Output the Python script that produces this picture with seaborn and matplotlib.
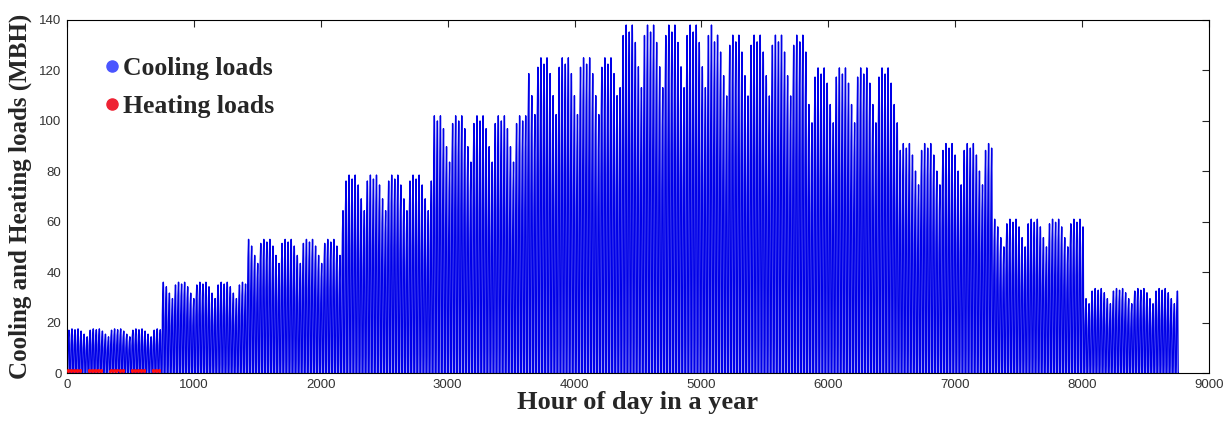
import numpy as np
import pandas as pd
import matplotlib
matplotlib.use("Agg")
import matplotlib.pyplot as plt
from matplotlib.lines import Line2D
import seaborn as sns

# ---------------- data ----------------
month_hours = [744, 672, 744, 720, 744, 720, 744, 744, 720, 744, 720, 744]
month_peak = [17.5, 36, 53, 78.5, 102, 125, 138, 134, 121, 91, 61, 33.5]
# relative daily load profile (24 hours)
hour_profile = [0, 0, 0, 0, 0, 0, 0.10, 0.50, 0.64, 0.74, 0.81, 0.86,
                0.90, 0.94, 0.98, 1.00, 0.97, 0.88, 0.64, 0.34, 0.08, 0, 0, 0]
# day-of-week scaling of the daily peak
weekday_factor = [0.97, 1.0, 0.98, 1.0, 0.95, 0.88, 0.82]
# heating (early morning, January only)
heating_hours = [6, 7]
heating_values = [0.8, 1.0]
heating_months = [0]

x_ticks = [0, 1000, 2000, 3000, 4000, 5000, 6000, 7000, 8000, 9000]
y_ticks = [0, 20, 40, 60, 80, 100, 120, 140]

# ---------------- build hourly series ----------------
cool = []
heat_h, heat_v = [], []
hour = 0
day_idx = 0
for m, (nh, pk) in enumerate(zip(month_hours, month_peak)):
    for d in range(nh // 24):
        f = weekday_factor[day_idx % 7]
        for h in range(24):
            cool.append(pk * f * hour_profile[h])
            if m in heating_months and h in heating_hours and day_idx % 7 < 5:
                heat_h.append(hour)
                heat_v.append(heating_values[heating_hours.index(h)])
            hour += 1
        day_idx += 1
df_cool = pd.DataFrame({"hour": np.arange(len(cool)), "load": cool})
df_heat = pd.DataFrame({"hour": heat_h, "load": heat_v})

# ---------------- plot ----------------
sns.set_style("white")
plt.rcParams["font.family"] = ["Liberation Sans", "DejaVu Sans"]
fig = plt.figure(figsize=(12.32, 4.21), dpi=100)
ax = fig.add_axes([67 / 1232, 48 / 421, (1209 - 67) / 1232, (373 - 20) / 421])

sns.lineplot(data=df_cool, x="hour", y="load", ax=ax, color="#0000e8",
             linewidth=1.0, estimator=None, sort=False)
sns.scatterplot(data=df_heat, x="hour", y="load", ax=ax, color="#ff1010",
                s=5, linewidth=0, zorder=3)

ax.set_xlim(0, 9000)
ax.set_ylim(0, 140)
ax.set_xticks(x_ticks)
ax.set_yticks(y_ticks)
ax.tick_params(direction="in", length=5, width=0.8, top=True, right=True,
               labelsize=9.5, labelcolor="#333333", pad=4)
for s in ax.spines.values():
    s.set_color("black")
    s.set_linewidth(0.8)

serif = ["Liberation Serif", "DejaVu Serif"]
ax.set_xlabel("Hour of day in a year", fontsize=19, fontweight="bold",
              family=serif, labelpad=0.5)
ax.set_ylabel("Cooling and Heating loads (MBH)", fontsize=18, fontweight="bold",
              family=serif, labelpad=5)

handles = [Line2D([], [], marker="o", ls="", color="#4a55ff", markersize=8),
           Line2D([], [], marker="o", ls="", color="#ee2233", markersize=8)]
leg = ax.legend(handles, ["Cooling loads", "Heating loads"], loc="upper left",
                bbox_to_anchor=(104 / 1232, 1 - 57 / 421),
                bbox_transform=fig.transFigure, frameon=False,
                handlelength=0.6, handletextpad=0.15, labelspacing=0.6,
                borderpad=0, borderaxespad=0,
                prop={"family": serif, "weight": "bold", "size": 18.5})

fig.savefig("out.png", dpi=100, facecolor="white")
